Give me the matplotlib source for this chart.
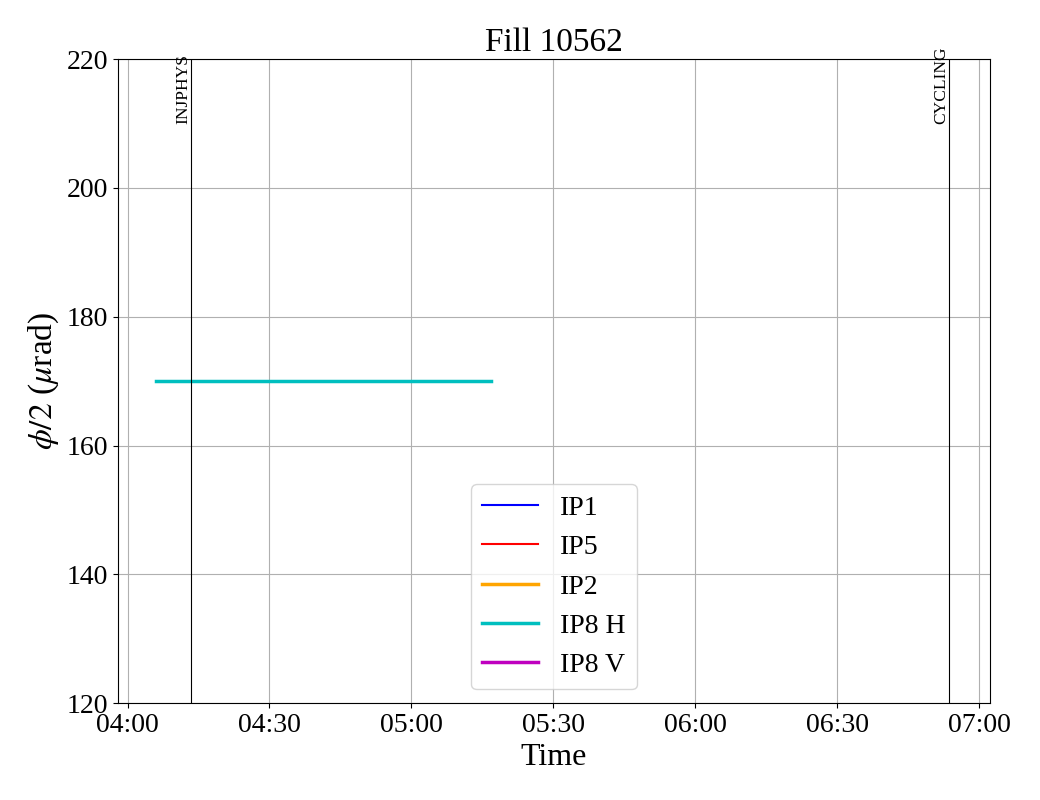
"""Crossing angle plot for one fill."""

from datetime import datetime

import matplotlib

matplotlib.use("Agg")

import matplotlib.dates as mdates
import matplotlib.pyplot as plt

plt.rcParams["font.family"] = "serif"
plt.rcParams["font.serif"] = ["Liberation Serif", "DejaVu Serif"]
plt.rcParams["mathtext.fontset"] = "stix"

FILL = 10562
DAY = "2025-05-10"

# series values (empty series still appear in the legend)
ip1_times, ip1_vals = [], []
ip5_times, ip5_vals = [], []
ip2_times, ip2_vals = [], []
ip8h_times = ["04:06:00", "04:30:00", "05:00:00", "05:16:50"]
ip8h_vals = [170, 170, 170, 170]
ip8v_times, ip8v_vals = [], []

# beam mode changes
mode_names = ["INJPHYS", "CYCLING"]
mode_times = ["04:13:30", "06:53:40"]

x_start = "03:58:00"
x_end = "07:02:20"


def _t(s):
    return datetime.strptime(f"{DAY} {s}", "%Y-%m-%d %H:%M:%S")


fig, ax = plt.subplots(figsize=(10.4, 8), dpi=100)
fig.subplots_adjust(left=0.1135, right=0.952, top=0.926, bottom=0.121)

ax.plot([_t(s) for s in ip1_times], ip1_vals, color="blue", lw=1.5, label="IP1")
ax.plot([_t(s) for s in ip5_times], ip5_vals, color="red", lw=1.5, label="IP5")
ax.plot([_t(s) for s in ip2_times], ip2_vals, color="orange", lw=2.5, label="IP2")
ax.plot([_t(s) for s in ip8h_times], ip8h_vals, color="c", lw=2.5, label="IP8 H")
ax.plot([_t(s) for s in ip8v_times], ip8v_vals, color="m", lw=2.5, label="IP8 V")

for name, s in zip(mode_names, mode_times):
    ax.axvline(_t(s), color="black", lw=0.8)
    ax.text(_t(s), 210, name, rotation=90, ha="right", va="bottom", fontsize=12.5)

ax.set_xlim(_t(x_start), _t(x_end))
ax.set_ylim(120, 220)
ax.set_yticks(range(120, 221, 20))
ax.xaxis.set_major_locator(mdates.MinuteLocator(byminute=[0, 30]))
ax.xaxis.set_major_formatter(mdates.DateFormatter("%H:%M"))
ax.tick_params(labelsize=20)
ax.grid(True)

ax.set_title(f"Fill {FILL}", fontsize=24)
ax.set_xlabel("Time", fontsize=23)
ax.set_ylabel(r"$\phi/2$ ($\mu$rad)", fontsize=24)
ax.legend(loc="lower center", fontsize=20)

fig.savefig("out.png", dpi=100)
